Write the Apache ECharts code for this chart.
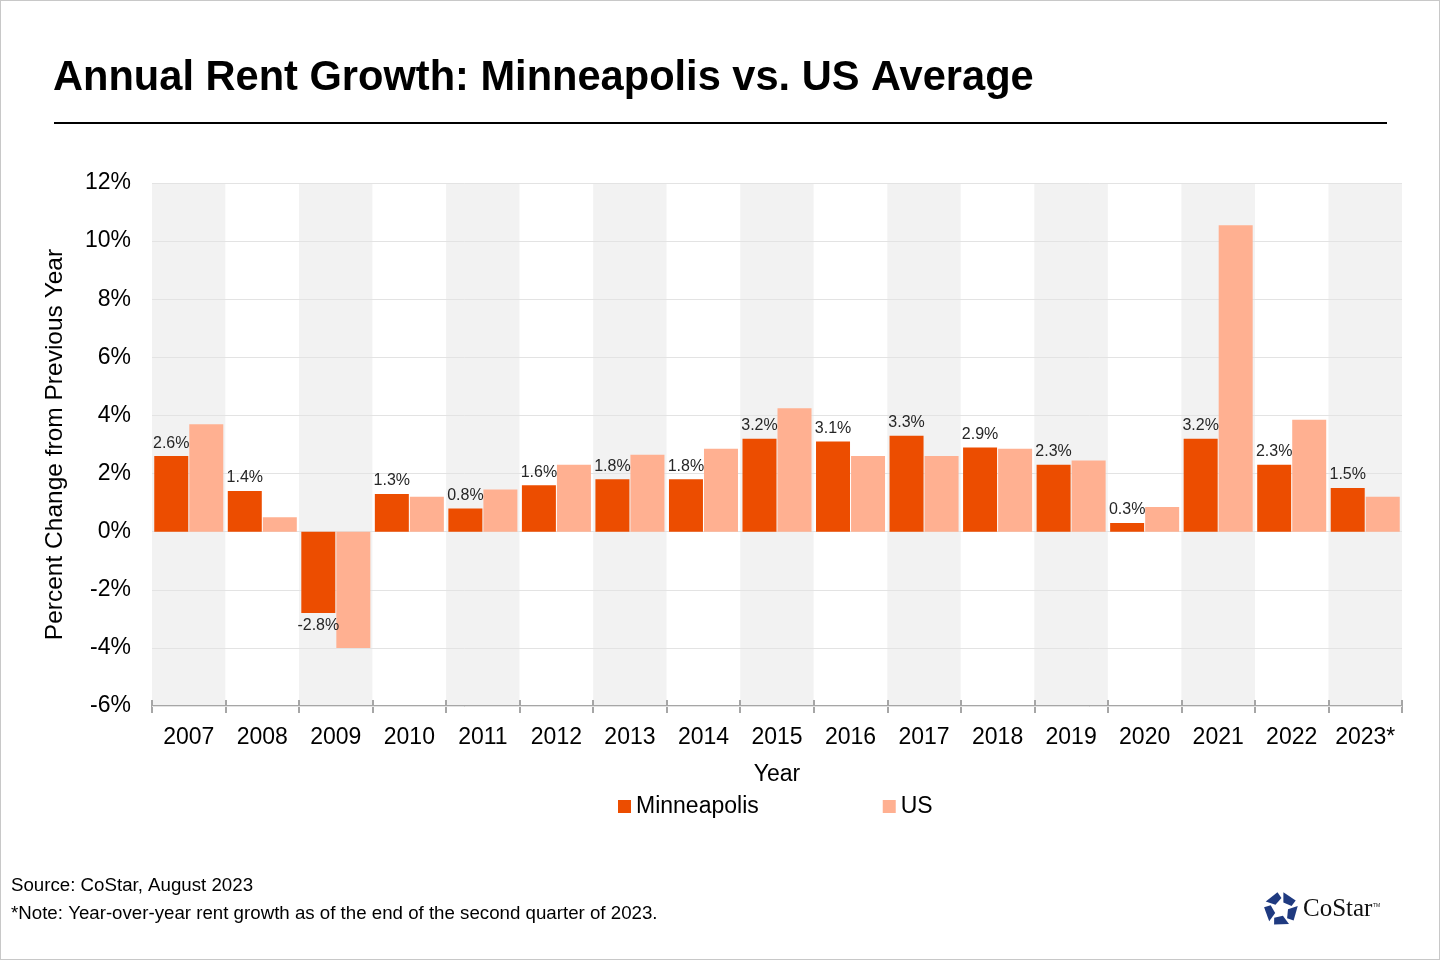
<!DOCTYPE html>
<html>
<head>
<meta charset="utf-8">
<script src="https://cdn.jsdelivr.net/npm/echarts@6/dist/echarts.min.js"></script>
<style>
html,body{margin:0;padding:0;background:#fff;}
#c{width:1440px;height:960px;box-sizing:border-box;border:1px solid #c8c8c8;}
</style>
</head>
<body>
<div id="c"></div>
<script>
const categories = ['2007','2008','2009','2010','2011','2012','2013','2014','2015','2016','2017','2018','2019','2020','2021','2022','2023*'];
const minneapolis = [2.6, 1.4, -2.8, 1.3, 0.8, 1.6, 1.8, 1.8, 3.2, 3.1, 3.3, 2.9, 2.3, 0.3, 3.2, 2.3, 1.5];
const us = [3.7, 0.5, -4.0, 1.2, 1.45, 2.3, 2.65, 2.85, 4.25, 2.6, 2.6, 2.85, 2.45, 0.85, 10.55, 3.85, 1.2];
const seriesNames = ['Minneapolis', 'US'];
const yTicks = {min: -6, max: 12, interval: 2};
const titleText = 'Annual Rent Growth: Minneapolis vs. US Average';
const sourceText = 'Source: CoStar, August 2023';
const noteText = '*Note: Year-over-year rent growth as of the end of the second quarter of 2023.';

const FONT = '"Liberation Sans", Arial, sans-serif';
const chart = echarts.init(document.getElementById('c'), null, {renderer: 'canvas'});

// CoStar logo segments
const cx = 1280, cy = 908, rOut = 17, rIn = 7;
const logoParts = [];
for (let i = 0; i < 5; i++) {
  const a0 = (-90 + i * 72 + 8) * Math.PI / 180;
  const a1 = (-90 + i * 72 + 60) * Math.PI / 180;
  const am = (-90 + i * 72 + 20) * Math.PI / 180;
  logoParts.push({
    type: 'polygon',
    shape: {points: [
      [cx + rIn * Math.cos(am), cy + rIn * Math.sin(am)],
      [cx + rOut * Math.cos(a0), cy + rOut * Math.sin(a0)],
      [cx + rOut * Math.cos(a1), cy + rOut * Math.sin(a1)],
      [cx + (rIn + 4) * Math.cos(a1 + 0.25), cy + (rIn + 4) * Math.sin(a1 + 0.25)]
    ]},
    style: {fill: '#1f3a80'}
  });
}

chart.setOption({
  backgroundColor: '#fff',
  animation: false,
  textStyle: {fontFamily: FONT},
  grid: {left: 151, right: 37, top: 182, bottom: 253},
  legend: {
    data: seriesNames,
    left: 612, top: 789,
    icon: 'rect', itemWidth: 13, itemHeight: 13, itemGap: 124, itemStyle: {borderWidth: 0},
    textStyle: {fontSize: 23, color: '#000', fontFamily: FONT}
  },
  xAxis: [{
    type: 'category',
    data: categories,
    name: 'Year', nameLocation: 'middle', nameGap: 57,
    nameTextStyle: {fontSize: 23, color: '#000'},
    axisLine: {onZero: false, lineStyle: {color: '#a6a6a6', width: 2}},
    axisTick: {show: true, interval: 0, length: 7, lineStyle: {color: '#a6a6a6', width: 2}},
    axisLabel: {interval: 0, fontSize: 23, color: '#000', margin: 20},
    splitArea: {show: true, interval: 0, areaStyle: {color: ['#f2f2f2', '#ffffff']}},
    z: 0
  }, {
    type: 'category',
    data: categories,
    position: 'bottom',
    axisLine: {show: false, onZero: false},
    axisTick: {show: true, interval: 0, inside: true, length: 6, lineStyle: {color: '#a6a6a6', width: 2}},
    axisLabel: {show: false},
    z: 3
  }],
  yAxis: {
    type: 'value',
    min: yTicks.min, max: yTicks.max, interval: yTicks.interval,
    name: 'Percent Change from Previous Year', nameLocation: 'middle', nameGap: 84,
    nameTextStyle: {fontSize: 24.5, color: '#000'},
    axisLabel: {formatter: '{value}%', fontSize: 23, color: '#000', margin: 21},
    axisLine: {show: false},
    axisTick: {show: false},
    splitLine: {show: true, lineStyle: {color: '#e3e3e3', width: 1}},
    z: 2
  },
  series: [{
    name: seriesNames[0],
    type: 'bar',
    barWidth: 34, barGap: '3%',
    itemStyle: {color: '#ec4d00'},
    label: {show: true, fontSize: 16, color: '#262626', formatter: p => p.value.toFixed(1) + '%', distance: 5},
    data: minneapolis.map(v => ({value: v, label: {position: v < 0 ? 'bottom' : 'top'}})),
    z: 4
  }, {
    name: seriesNames[1],
    type: 'bar',
    barWidth: 34,
    itemStyle: {color: '#ffb091'},
    data: us,
    z: 4
  }],
  graphic: [
    {type: 'text', left: 52, top: 57, style: {text: titleText, font: 'bold 41.6px ' + FONT, fill: '#000'}},
    {type: 'line', shape: {x1: 53, y1: 122, x2: 1386, y2: 122}, style: {stroke: '#000', lineWidth: 2}},
    {type: 'text', left: 10, top: 875, style: {text: sourceText, font: '18.7px ' + FONT, fill: '#000'}},
    {type: 'text', left: 10, top: 903, style: {text: noteText, font: '18.7px ' + FONT, fill: '#000'}},
    ...logoParts,
    {type: 'text', left: 1302, top: 896, style: {text: 'CoStar', font: '25px "Liberation Serif", "DejaVu Serif", serif', fill: '#111'}},
    {type: 'text', left: 1372, top: 902, style: {text: 'TM', font: '5px ' + FONT, fill: '#111'}}
  ]
});
</script>
</body>
</html>
